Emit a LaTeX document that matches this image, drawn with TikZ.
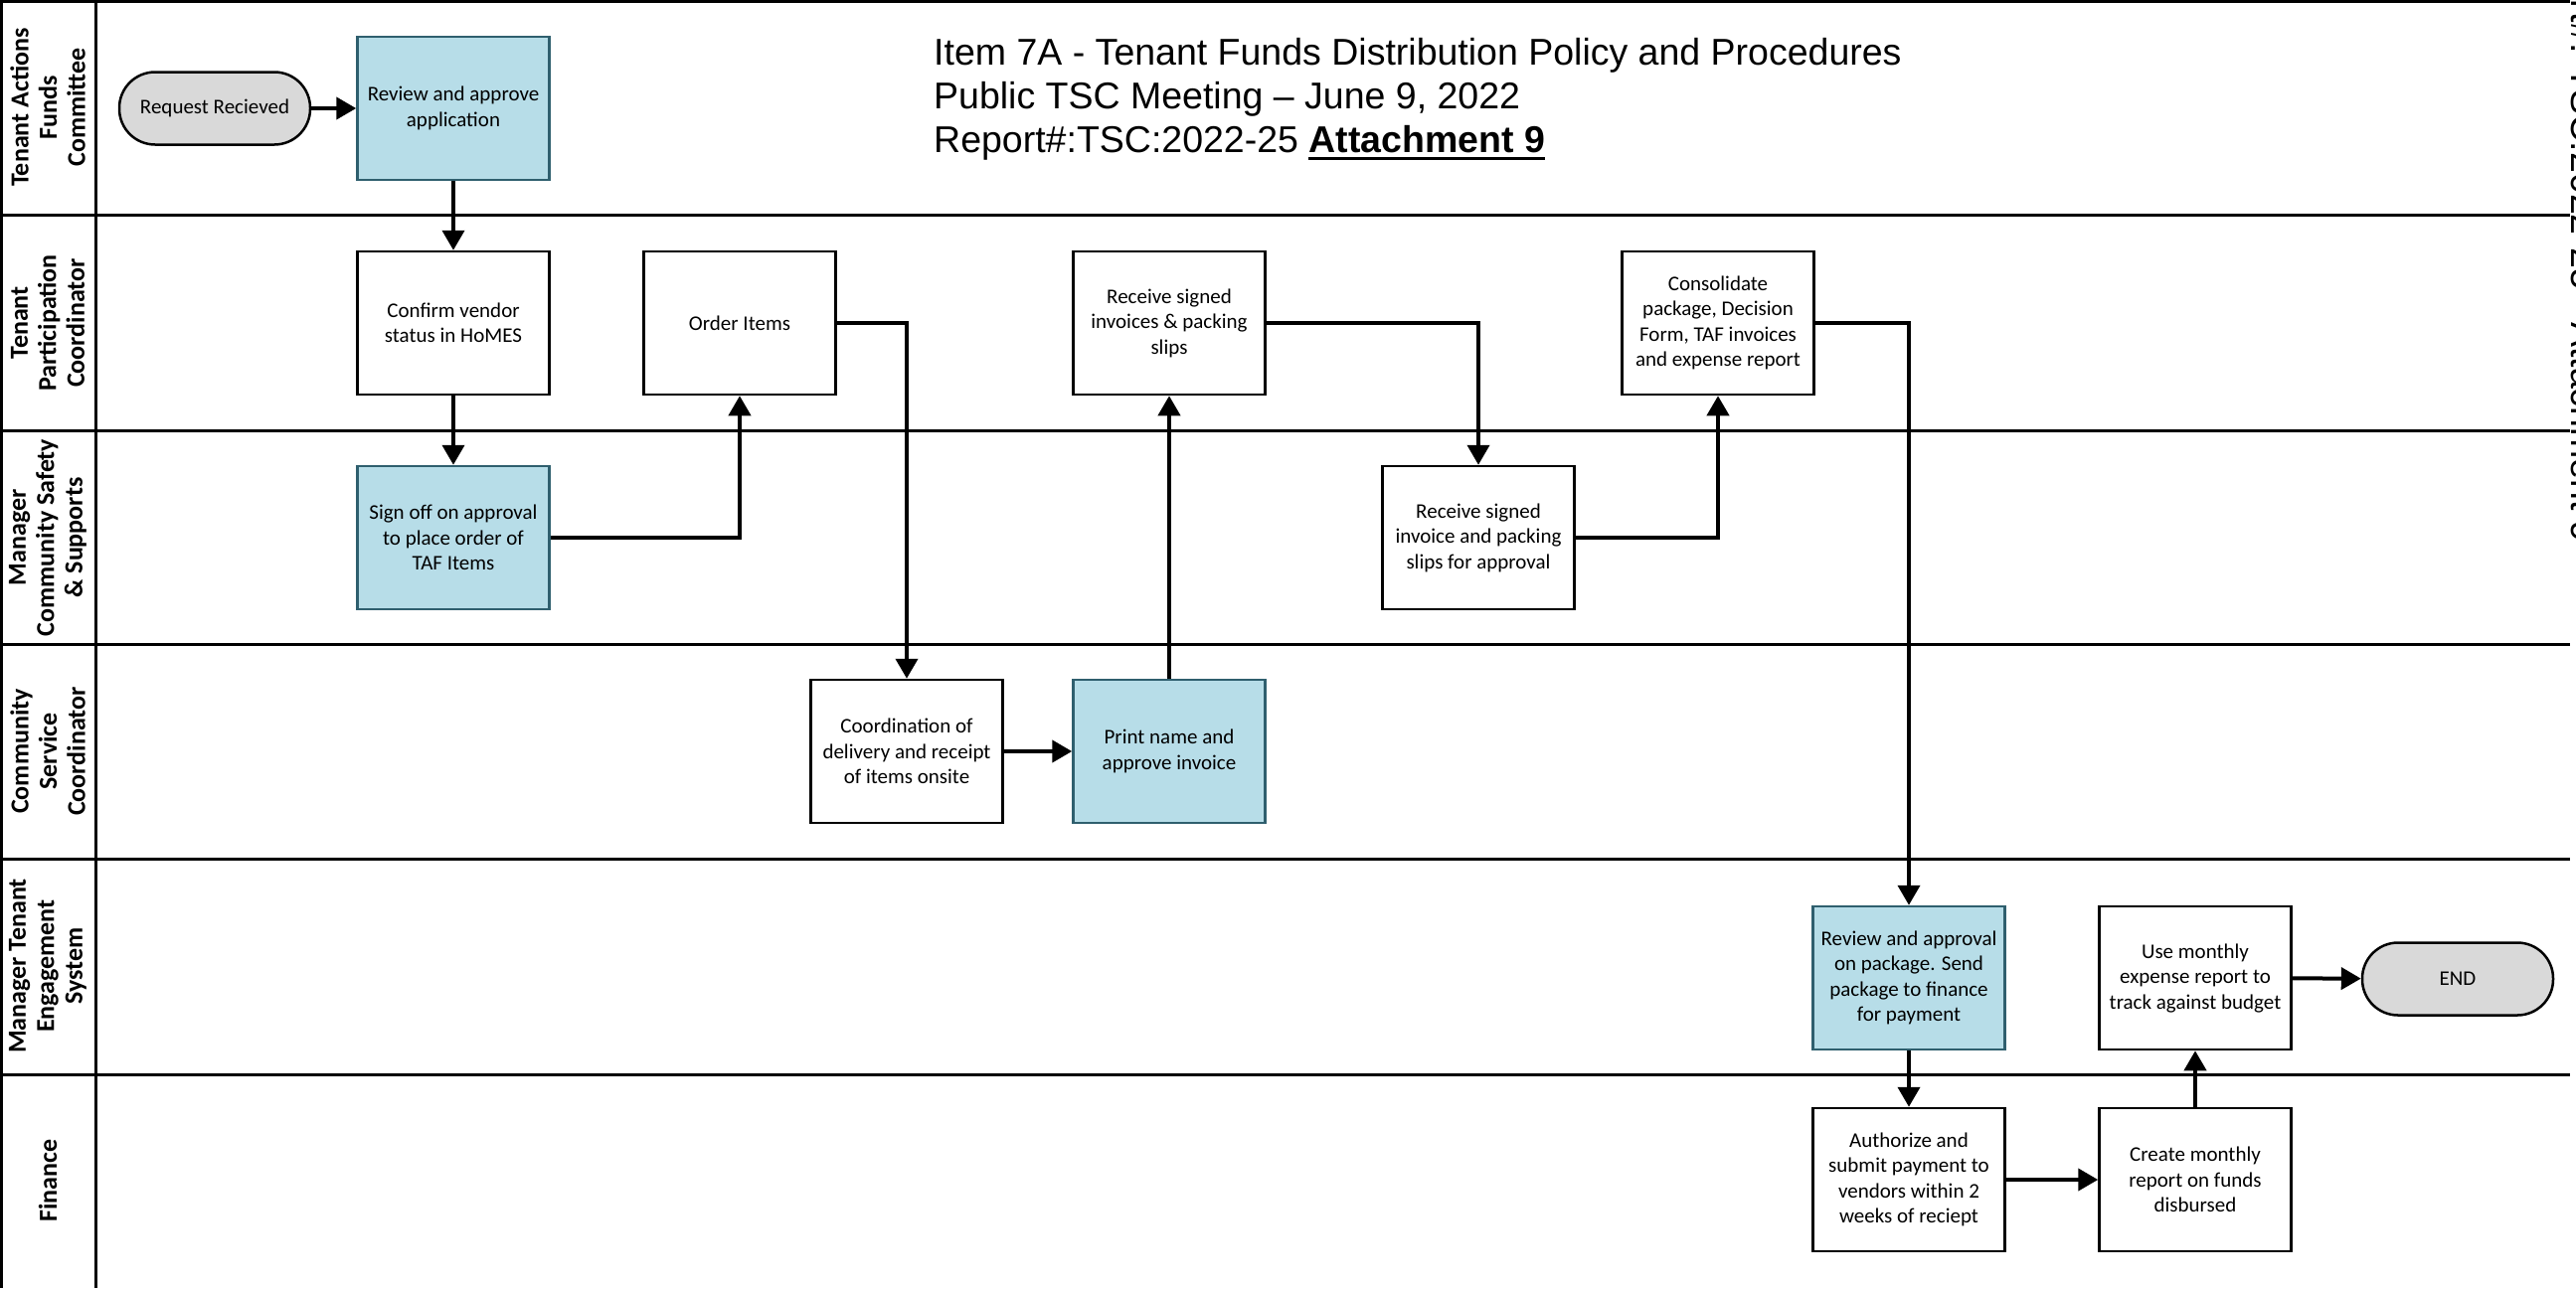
\documentclass[tikz,border=0pt]{standalone}
\usepackage{fontspec}
\setmainfont{Carlito}
\newfontfamily\arialf{Liberation Sans}
\usetikzlibrary{arrows.meta}
\definecolor{procblue}{HTML}{B7DDE8}
\definecolor{procedge}{HTML}{2F5F6E}
\definecolor{termgray}{HTML}{D9D9D9}
\begin{document}
\begin{tikzpicture}[x=1pt,y=-1pt,
  boxtext/.style={font=\fontsize{21}{25.5}\selectfont, align=center, text=black},
  proc/.style={draw=black, line width=2.5pt, fill=white, minimum width=193pt, minimum height=144pt, inner sep=0pt, boxtext},
  procb/.style={proc, fill=procblue, draw=procedge},
  term/.style={draw=black, line width=2.5pt, fill=termgray, rounded corners=36pt, minimum width=192pt, minimum height=73pt, inner sep=0pt, boxtext},
  laneline/.style={line width=3pt},
  arr/.style={line width=4pt, -{Triangle[length=20pt,width=22pt]}},
  lanelabel/.style={rotate=90, align=center, inner sep=0pt, font=\fontsize{26}{28.5}\selectfont\bfseries},
  titletext/.style={anchor=base west, inner sep=0pt, font=\arialf\fontsize{37.5}{44}\selectfont}
]
\useasboundingbox (0,0) rectangle (2591,1296);
\fill[white] (0,0) rectangle (2591,1296);

% swimlane grid
\draw[laneline] (0,1.5) -- (2585,1.5);
\foreach \yy in {216,433,648,864,1081}{\draw[laneline] (0,\yy) -- (2585,\yy);}
\draw[laneline] (1.5,0) -- (1.5,1296);
\draw[laneline] (96,0) -- (96,1296);

% lane labels
\node[lanelabel] (l1) at (48,108) {Tenant Actions\\Funds\\Committee};
\node[lanelabel] (l2) at (48,325) {Tenant\\Participation\\Coordinator};
\node[lanelabel] (l3) at (48,541) {Manager\\Community Safety\\\& Supports};
\node[lanelabel] (l4) at (48,756) {Community\\Service\\Coordinator};
\node[lanelabel] (l5) at (48,972) {Manager Tenant\\Engagement\\System};
\node[lanelabel] (l6) at (48,1188) {Finance};

% title
\node[titletext] (t1) at (939,65) {Item 7A - Tenant Funds Distribution Policy and Procedures};
\node[titletext] (t2) at (939,109) {Public TSC Meeting – June 9, 2022};
\node[titletext] (t3) at (939,153) {Report\#:TSC:2022-25};
\node[titletext, font=\arialf\fontsize{37.5}{44}\selectfont\bfseries, anchor=base west] (t3b) at ([xshift=10pt]t3.base east) {Attachment 9};
\draw[line width=3.5pt] ([yshift=-6.5pt]t3b.base west) -- ([yshift=-6.5pt]t3b.base east);

% side text, mostly cut off by the page edge
\node[rotate=-90, anchor=base west, inner sep=0pt, font=\arialf\fontsize{37.5}{44}\selectfont] (side) at (2586,-90) {Report\#: TSC:2022-25 - Attachment 9};

% process nodes
\node[term]  (req)    at (216,109)  {Request Recieved};
\node[procb] (rev)    at (456,109)  {Review and approve\\application};
\node[proc]  (conf)   at (456,325)  {Confirm vendor\\status in HoMES};
\node[proc]  (order)  at (744,325)  {Order Items};
\node[proc]  (recv)   at (1176,325) {Receive signed\\invoices \& packing\\slips};
\node[proc]  (cons)   at (1728,325) {Consolidate\\package, Decision\\Form, TAF invoices\\and expense report};
\node[procb] (sign)   at (456,541)  {Sign off on approval\\to place order of\\TAF Items};
\node[proc]  (recvm)  at (1487,541) {Receive signed\\invoice and packing\\slips for approval};
\node[proc]  (coord)  at (912,756)  {Coordination of\\delivery and receipt\\of items onsite};
\node[procb] (print)  at (1176,756) {Print name and\\approve invoice};
\node[procb] (revp)   at (1920,984) {Review and approval\\on package. Send\\package to finance\\for payment};
\node[proc]  (use)    at (2208,984) {Use monthly\\expense report to\\track against budget};
\node[term]  (endn)   at (2472,985) {END};
\node[proc]  (auth)   at (1920,1187) {Authorize and\\submit payment to\\vendors within 2\\weeks of reciept};
\node[proc]  (create) at (2208,1187) {Create monthly\\report on funds\\disbursed};

% connectors
\draw[arr] (req) -- (rev);
\draw[arr] (rev) -- (conf);
\draw[arr] (conf) -- (sign);
\draw[arr] (sign.east) -| (order.south);
\draw[arr] (order.east) -| (coord.north);
\draw[arr] (coord) -- (print);
\draw[arr] (print) -- (recv);
\draw[arr] (recv.east) -| (recvm.north);
\draw[arr] (recvm.east) -| (cons.south);
\draw[arr] (cons.east) -| (revp.north);
\draw[arr] (revp) -- (auth);
\draw[arr] (auth) -- (create);
\draw[arr] (create) -- (use);
\draw[arr] (use) -- (endn);
\end{tikzpicture}
\end{document}
